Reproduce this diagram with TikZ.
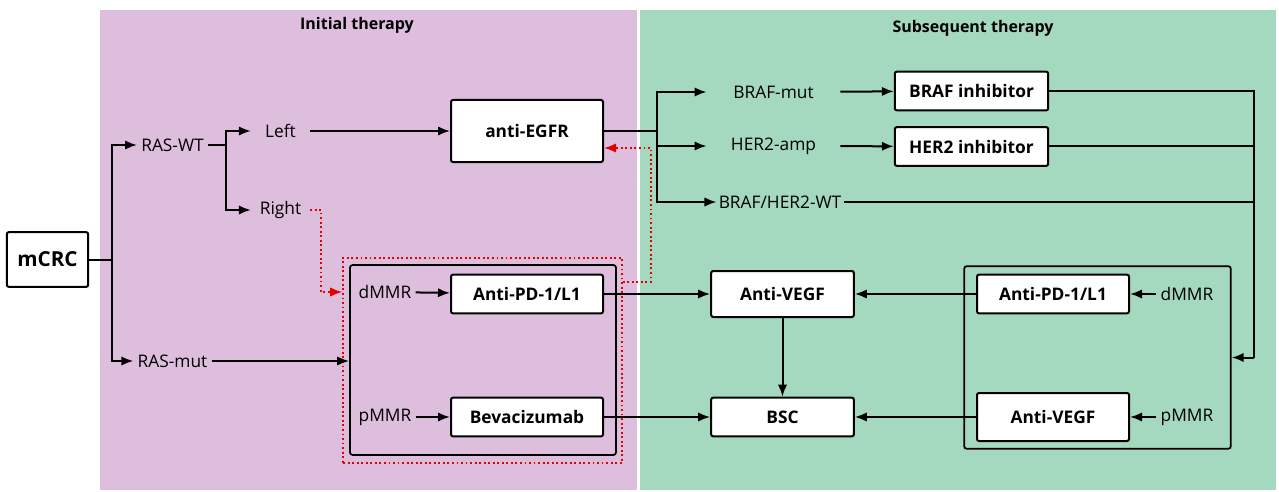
\documentclass[tikz,border=0pt]{standalone}
\usepackage{fontspec}
\setmainfont{Open Sans}
\usepackage{tikz}
\usetikzlibrary{shapes,arrows,arrows.meta,positioning,calc}
\definecolor{initbg}{RGB}{221,190,221}
\definecolor{nextbg}{RGB}{164,217,191}
\tikzset{
    block/.style = {
        rectangle, draw, fill=white, line width=1.5pt,
        rounded corners=1.5pt, inner sep=2pt,
        font=\fontsize{13}{15}\selectfont\bfseries,
        minimum width=114pt, minimum height=29pt
    },
    tag/.style   = {font=\fontsize{13}{15}\selectfont, inner sep=3pt},
    group/.style = {rectangle, draw, line width=1.3pt, rounded corners=2pt, inner sep=0pt},
    wire/.style  = {draw, line width=1.5pt},
    line/.style  = {wire, -{Latex[length=9pt, width=7pt]}},
    redline/.style = {draw, red!90!black, dotted, line width=1.4pt,
                      -{Latex[length=9pt, width=7pt]}},
    paneltitle/.style = {font=\fontsize{12}{14}\selectfont\bfseries}
}

\begin{document}
\begin{tikzpicture}[x=0.75pt, y=-0.75pt]
  \useasboundingbox (0,0) rectangle (1279,492);
  % the two therapy panels
  \fill [initbg] (100,10) rectangle (637,490);
  \fill [nextbg] (640,10) rectangle (1276,490);
  \node [paneltitle] (initT) at (357,25) {Initial therapy};
  \node [paneltitle] (nextT) at (973,28) {Subsequent therapy};

  \node [block, minimum width=61pt, minimum height=41pt,
         font=\fontsize{15.5}{17}\selectfont\bfseries] (mcrc) at (47.5,259.5) {mCRC};
  \node [tag] (raswt) at (172.5,145) {RAS-WT};
  \node [tag] (rasmut) at (172.5,361) {RAS-mut};
  \node [tag, minimum width=44pt] (left) at (280.5,131) {Left};
  \node [tag, minimum width=44pt] (right) at (280.5,210) {Right};
  \node [block, minimum height=46.5pt] (egfr) at (527,131) {anti-EGFR};

  \node [draw, red!90!black, dotted, line width=1.4pt, inner sep=0pt,
         minimum width=209pt, minimum height=154pt] (redbox) at (482.5,360.5) {};
  \node [group, minimum width=199.5pt, minimum height=142.5pt] (grpL) at (483,360) {};
  \node [tag] (dmmrL) at (385,292) {dMMR};
  \node [tag] (pmmrL) at (385,417) {pMMR};
  \node [block] (pdL) at (527,294) {Anti-PD-1/L1};
  \node [block] (bevL) at (527,417) {Bevacizumab};

  \node [tag, minimum width=100pt] (brafmut) at (773.5,92) {BRAF-mut};
  \node [tag, minimum width=100pt] (her2amp) at (773.5,146) {HER2-amp};
  \node [tag, inner sep=1.5pt] (wt) at (780,202) {BRAF/HER2-WT};
  \node [block, minimum width=115pt] (brafinh) at (971.5,91) {BRAF inhibitor};
  \node [block, minimum width=115pt] (her2inh) at (971.5,146.5) {HER2 inhibitor};

  \node [block, minimum width=107pt, minimum height=34.5pt] (vegfM) at (782.5,294) {Anti-VEGF};
  \node [block, minimum width=107pt] (bsc) at (782.5,417) {BSC};

  \node [group, minimum width=200pt, minimum height=137pt] (grpR) at (1097.5,357.5) {};
  \node [block] (pdR) at (1053,294) {Anti-PD-1/L1};
  \node [block, minimum height=36pt] (vegfR) at (1053,417) {Anti-VEGF};
  \node [tag] (dmmrR) at (1187,294) {dMMR};
  \node [tag] (pmmrR) at (1187,417) {pMMR};

  \coordinate (j0) at (112,259.5);
  \coordinate (j1) at (226,145);
  \coordinate (j2) at (657,131);
  \coordinate (rail) at (1254,357.5);

  \path [wire] (mcrc.east) -- (j0);
  \path [line] (j0) |- (raswt.west);
  \path [line] (j0) |- (rasmut.west);
  \path [wire] (raswt.east) -- (j1);
  \path [line] (j1) |- (left.west);
  \path [line] (j1) |- (right.west);
  \path [line] (left) -- (egfr);
  \path [line] (rasmut) -- (grpL.west |- rasmut);

  \path [wire] (egfr.east) -- (j2);
  \path [line] (j2) |- (brafmut.west);
  \path [line] (j2) |- (her2amp.west);
  \path [line] (j2) |- (wt.west);
  \path [line] (brafmut) -- (brafinh);
  \path [line] (her2amp) -- (her2inh);
  \path [wire] (brafinh.east) -| (rail);
  \path [wire] (her2inh.east) -- (her2inh.east -| rail);
  \path [wire] (wt.east) -- (wt.east -| rail);
  \path [line] (rail) -- (grpR.east);

  \path [line] (dmmrL) -- (pdL);
  \path [line] (pmmrL) -- (bevL);
  \path [line] (pdL) -- (vegfM);
  \path [line] (bevL) -- (bsc);
  \path [line] (vegfM) -- (bsc);
  \path [line] (pdR) -- (vegfM);
  \path [line] (vegfR) -- (bsc);
  \path [line] (dmmrR) -- (pdR);
  \path [line] (pmmrR) -- (vegfR);

  % dotted red switch paths
  \path [redline] (right.east) -- ++(11,0) |- (redbox.west |- dmmrL);
  \path [redline] ($(redbox.north east)+(0,25)$) -| ($(egfr.east)+(47,17)$)
    -- ($(egfr.east)+(0,17)$);
\end{tikzpicture}
\end{document}
